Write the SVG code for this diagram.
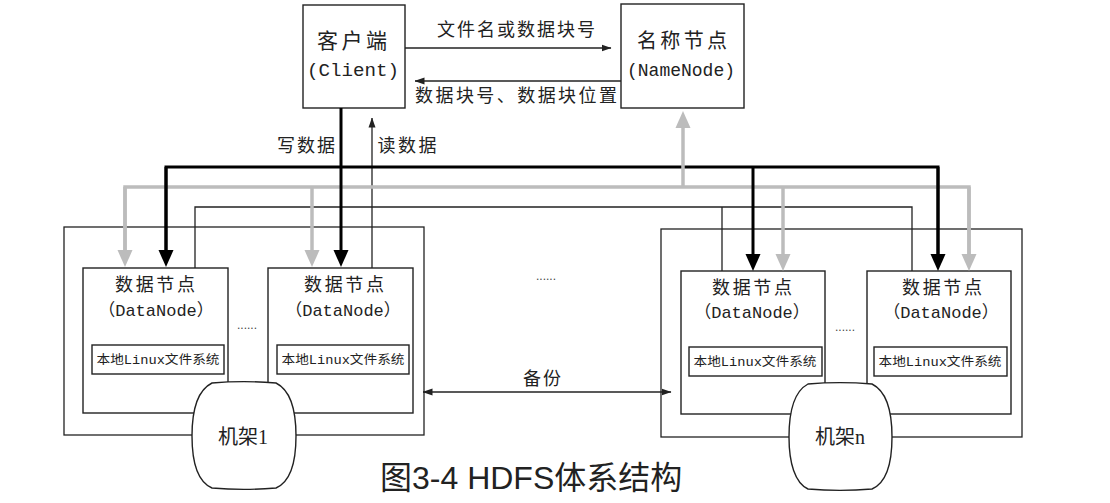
<svg xmlns="http://www.w3.org/2000/svg" width="1110" height="503" viewBox="0 0 1110 503">
<style>
.box{fill:#fff;stroke:#222;stroke-width:1.4}
.rack{fill:none;stroke:#222;stroke-width:1.3}
.inner{fill:#fff;stroke:#222;stroke-width:1.4}
.thin{fill:none;stroke:#222;stroke-width:1.3}
.blk{fill:none;stroke:#000;stroke-width:3}
.gry{fill:none;stroke:#bcbcbc;stroke-width:3.5}
.cn{font-family:"Liberation Serif","Noto Sans CJK SC",serif;fill:#222;text-anchor:middle}
.mono{font-family:"Liberation Mono","Noto Sans CJK SC",monospace;fill:#222;text-anchor:middle}
.dn{font-family:"Liberation Mono","Noto Sans CJK SC",monospace;fill:#222;text-anchor:middle;font-size:17px}
.dots{font-family:"Liberation Sans",sans-serif;font-size:12px;fill:#444;text-anchor:middle}
</style>
<defs>
<marker id="hb" viewBox="0 0 17 16" markerWidth="17" markerHeight="16" refX="7" refY="8" orient="auto" markerUnits="userSpaceOnUse"><path d="M0,0.5 L17,8 L0,15.5 Z" fill="#000"/></marker>
<marker id="hg" viewBox="0 0 17 16" markerWidth="17" markerHeight="16" refX="7" refY="8" orient="auto" markerUnits="userSpaceOnUse"><path d="M0,0.5 L17,8 L0,15.5 Z" fill="#bcbcbc"/></marker>
<marker id="ht" viewBox="0 0 10 8" markerWidth="10" markerHeight="8" refX="9.5" refY="4" orient="auto" markerUnits="userSpaceOnUse"><path d="M0,0.5 L10,4 L0,7.5 Z" fill="#222"/></marker>
<marker id="hts" viewBox="0 0 10 8" markerWidth="10" markerHeight="8" refX="9.5" refY="4" orient="auto-start-reverse" markerUnits="userSpaceOnUse"><path d="M0,0.5 L10,4 L0,7.5 Z" fill="#222"/></marker>
</defs>

<g id="rack1-frame"><rect class="rack" x="64" y="227" width="360" height="208"/></g>
<g id="rackn-frame"><rect class="rack" x="661" y="229" width="361" height="208"/></g>

<g id="client">
<rect class="box" x="303" y="5" width="102" height="103"/>
<text class="cn" x="352" y="48" font-size="21" textLength="70" lengthAdjust="spacing">客户端</text>
<text class="mono" x="353" y="76" font-size="18" textLength="92" lengthAdjust="spacingAndGlyphs">(Client)</text>
</g>
<g id="namenode">
<rect class="box" x="621" y="4" width="123" height="104"/>
<text class="cn" x="682" y="48" font-size="20" textLength="90" lengthAdjust="spacing">名称节点</text>
<text class="mono" x="681" y="76" font-size="18" textLength="108" lengthAdjust="spacingAndGlyphs">(NameNode)</text>
</g>

<g id="datanode1">
<rect class="box" x="83" y="268" width="145" height="145"/>
<text class="cn" x="155" y="291" font-size="18" textLength="80" lengthAdjust="spacing">数据节点</text>
<text class="dn" x="156" y="316">（DataNode）</text>
<rect class="inner" x="92" y="345" width="132" height="29"/>
<text class="mono" x="158" y="364" font-size="12.5" fill="#333" textLength="123" lengthAdjust="spacingAndGlyphs">本地Linux文件系统</text>
</g>
<g id="datanode2">
<rect class="box" x="268" y="268" width="145" height="145"/>
<text class="cn" x="344" y="291" font-size="18" textLength="80" lengthAdjust="spacing">数据节点</text>
<text class="dn" x="343" y="316">（DataNode）</text>
<rect class="inner" x="277" y="345" width="132" height="29"/>
<text class="mono" x="343" y="364" font-size="12.5" fill="#333" textLength="123" lengthAdjust="spacingAndGlyphs">本地Linux文件系统</text>
</g>
<g id="datanode3">
<rect class="box" x="681" y="271" width="144" height="143"/>
<text class="cn" x="752" y="294" font-size="18" textLength="80" lengthAdjust="spacing">数据节点</text>
<text class="dn" x="752" y="318">（DataNode）</text>
<rect class="inner" x="689" y="347" width="133" height="29"/>
<text class="mono" x="755" y="366" font-size="12.5" fill="#333" textLength="123" lengthAdjust="spacingAndGlyphs">本地Linux文件系统</text>
</g>
<g id="datanode4">
<rect class="box" x="867" y="271" width="144" height="143"/>
<text class="cn" x="942" y="294" font-size="18" textLength="80" lengthAdjust="spacing">数据节点</text>
<text class="dn" x="941" y="318">（DataNode）</text>
<rect class="inner" x="874" y="347" width="133" height="29"/>
<text class="mono" x="940" y="366" font-size="12.5" fill="#333" textLength="123" lengthAdjust="spacingAndGlyphs">本地Linux文件系统</text>
</g>

<g id="rack1">
<path class="box" d="M212,383 C236,381 252,381 276,383 C290,390 296,410 296,436 C296,462 290,482 276,488 C252,490 236,490 212,488 C198,482 192,462 192,436 C192,410 198,390 212,383 Z"/>
<text class="cn" x="243" y="444" font-size="20">机架1</text>
</g>
<g id="rackn">
<path class="box" d="M808,384 C832,382 848,382 872,384 C886,391 892,411 892,437 C892,463 886,483 872,489 C848,491 832,491 808,489 C795,483 789,463 789,437 C789,411 795,391 808,384 Z"/>
<text class="cn" x="840" y="444" font-size="20">机架n</text>
</g>

<g id="connectors">
<path class="thin" d="M195,268 V207 H912 V271 M722,207 V271"/>
<path class="thin" d="M405,48 H611" marker-end="url(#ht)"/>
<path class="thin" d="M621,81 H415" marker-end="url(#ht)"/>
<path class="thin" d="M372,268 V118" marker-end="url(#ht)"/>
<path class="thin" d="M423,392 H671" marker-start="url(#hts)" marker-end="url(#hts)"/>
<path class="gry" d="M125,257 V187 H969 V261"/>
<path class="gry" d="M312,187 V257" marker-end="url(#hg)"/>
<path class="gry" d="M125,187 V257" marker-end="url(#hg)"/>
<path class="gry" d="M969,187 V261" marker-end="url(#hg)"/>
<path class="gry" d="M783,187 V261" marker-end="url(#hg)"/>
<path class="blk" d="M166,257 V167 H938 V261"/>
<path class="blk" d="M166,167 V257" marker-end="url(#hb)"/>
<path class="blk" d="M938,167 V261" marker-end="url(#hb)"/>
<path class="blk" d="M753,167 V261" marker-end="url(#hb)"/>
<path class="blk" d="M341,108 V257" marker-end="url(#hb)"/>
<path class="gry" d="M683,187 V121" marker-end="url(#hg)"/>
</g>

<g id="labels">
<text class="cn" x="516" y="36" font-size="18" textLength="158" lengthAdjust="spacing">文件名或数据块号</text>
<text class="cn" x="516" y="102" font-size="18" textLength="202" lengthAdjust="spacing">数据块号、数据块位置</text>
<text class="cn" x="306" y="152" font-size="18" textLength="58" lengthAdjust="spacing">写数据</text>
<text class="cn" x="407" y="152" font-size="18" textLength="59" lengthAdjust="spacing">读数据</text>
<text class="cn" x="542" y="385" font-size="18" textLength="38" lengthAdjust="spacing">备份</text>
<text class="dots" x="546" y="280">......</text>
<text class="dots" x="247" y="329">......</text>
<text class="dots" x="845" y="331">......</text>
<text x="380" y="489" font-family="Liberation Sans,Noto Sans CJK SC,sans-serif" font-size="32" fill="#222">图3-4 HDFS体系结构</text>
</g>
</svg>
